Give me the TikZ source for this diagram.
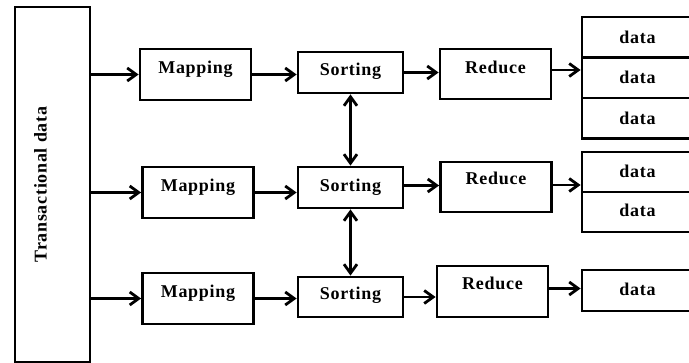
\documentclass[tikz,border=0pt]{standalone}
\usepackage{fontspec}
\setmainfont{Liberation Serif}[LetterSpace=4]
\usetikzlibrary{arrows.meta}

% text set at a given height above the node centre, taking no vertical room
\newcommand\lift[2]{\raisebox{#1}[0pt][0pt]{#2}}

\tikzset{
  box/.style={draw, line width=2.8pt, inner sep=0pt, font=\fontsize{18}{20}\selectfont\bfseries},
  arr/.style={line width=2.8pt, -{Straight Barb[length=9pt,width=13pt]}},
  darr/.style={line width=2.8pt, {Straight Barb[length=9pt,width=13pt]}-{Straight Barb[length=9pt,width=13pt]}},
}

\begin{document}
\begin{tikzpicture}[x=1pt, y=-1pt]
\clip (0,0) rectangle (689,363);
\fill[white] (0,0) rectangle (689,363);

% source column
\node[box, rotate=90, minimum width=355pt, minimum height=75pt] (T) at (52.5,184.5)
  {\lift{6pt}{Transactional data}};

% first row
\node[box, minimum width=111pt, minimum height=51pt] (m1) at (195.5,74.5) {\lift{0.5pt}{Mapping}};
\node[box, minimum width=105pt, minimum height=41pt] (s1) at (350.5,72.5) {\lift{-3.5pt}{Sorting}};
\node[box, minimum width=111pt, minimum height=50pt] (r1) at (495.5,74) {\lift{0pt}{Reduce}};
\node[box, minimum width=111pt, minimum height=40.5pt] (d1a) at (637.5,37.25) {\lift{-6pt}{data}};
\node[box, minimum width=111pt, minimum height=40.5pt] (d1b) at (637.5,77.75) {\lift{-6pt}{data}};
\node[box, minimum width=111pt, minimum height=40.5pt] (d1c) at (637.5,118.25) {\lift{-6pt}{data}};

% second row
\node[box, minimum width=111pt, minimum height=51pt] (m2) at (198,192.5) {\lift{0.5pt}{Mapping}};
\node[box, minimum width=105pt, minimum height=41pt] (s2) at (350.5,187.5) {\lift{-4.5pt}{Sorting}};
\node[box, minimum width=111pt, minimum height=50pt] (r2) at (496,187) {\lift{2pt}{Reduce}};
\node[box, minimum width=111pt, minimum height=40pt] (d2a) at (637.5,172) {\lift{-5.5pt}{data}};
\node[box, minimum width=111pt, minimum height=40pt] (d2b) at (637.5,212) {\lift{-5pt}{data}};

% third row
\node[box, minimum width=111pt, minimum height=51pt] (m3) at (198,298.5) {\lift{0.5pt}{Mapping}};
\node[box, minimum width=105pt, minimum height=40pt] (s3) at (350.5,297) {\lift{-3pt}{Sorting}};
\node[box, minimum width=111pt, minimum height=51pt] (r3) at (492.5,291.5) {\lift{1.5pt}{Reduce}};
\node[box, minimum width=111pt, minimum height=41pt] (d3) at (637.5,290.5) {\lift{-5.5pt}{data}};

% flow, row by row
\draw[arr] (m1.west -| T.south) -- (m1.west);
\draw[arr] (m1.east) -- (m1.east -| s1.west);
\draw[arr] (s1.east) -- (s1.east -| r1.west);
\draw[arr] ([yshift=4pt]r1.east) -- ([yshift=4pt]r1.east -| d1b.west);

\draw[arr] (m2.west -| T.south) -- (m2.west);
\draw[arr] (m2.east) -- (m2.east -| s2.west);
\draw[arr] ([yshift=2pt]s2.east) -- ([yshift=2pt]s2.east -| r2.west);
\draw[arr] ([yshift=2pt]r2.east) -- ([yshift=2pt]r2.east -| d2a.west);

\draw[arr] (m3.west -| T.south) -- (m3.west);
\draw[arr] (m3.east) -- (m3.east -| s3.west);
\draw[arr] (s3.east) -- (s3.east -| r3.west);
\draw[arr] ([yshift=3pt]r3.east) -- ([yshift=3pt]r3.east -| d3.west);

% exchange between the sorting stages
\draw[darr] (s1.south) -- (s2.north);
\draw[darr] (s2.south) -- (s3.north);
\end{tikzpicture}
\end{document}
